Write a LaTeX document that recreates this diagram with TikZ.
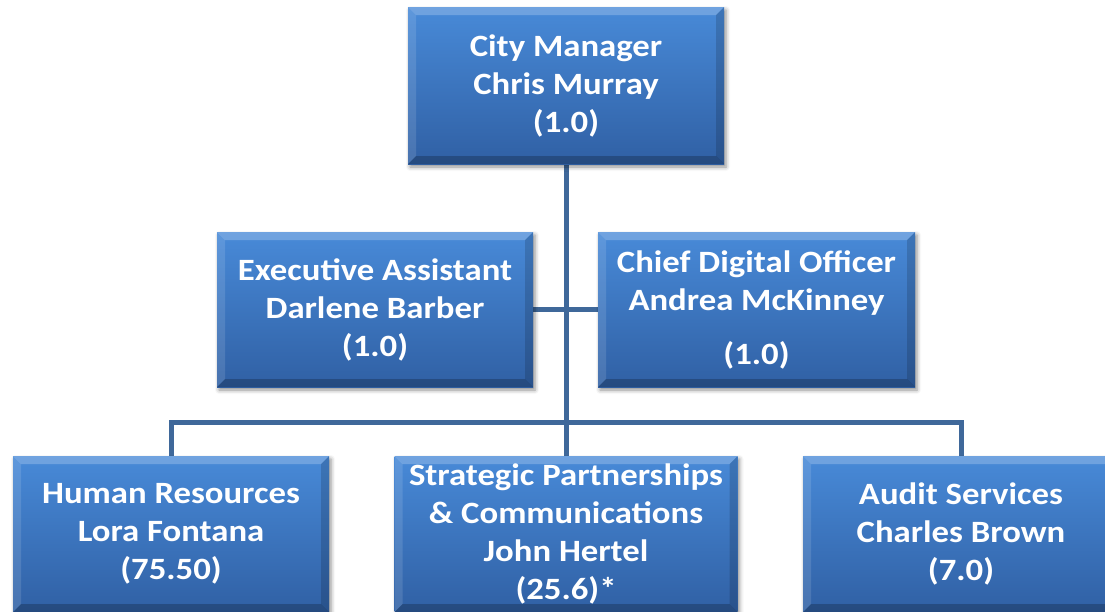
\documentclass[tikz,border=0pt]{standalone}
\usepackage{fontspec}
\setmainfont[FakeStretch=1.12]{Carlito}
\usetikzlibrary{shadows.blur,backgrounds}
\definecolor{boxtop}{RGB}{72,138,216}
\definecolor{boxbot}{RGB}{48,96,164}
\definecolor{connc}{RGB}{63,104,154}
\tikzset{
  orgbox/.style={rectangle, draw=none, top color=boxtop, bottom color=boxbot,
    text=white, align=center, inner sep=0pt,
    font=\fontsize{31}{38}\selectfont\bfseries,
    blur shadow={shadow xshift=2pt, shadow yshift=-3pt, shadow blur radius=4pt, shadow opacity=45},
    path picture={
      \fill[white,opacity=0.22] (path picture bounding box.north west) -- (path picture bounding box.north east)
        -- ([xshift=-8pt,yshift=-8pt]path picture bounding box.north east) -- ([xshift=8pt,yshift=-8pt]path picture bounding box.north west) -- cycle;
      \fill[white,opacity=0.12] (path picture bounding box.north west) -- ([xshift=8pt,yshift=-8pt]path picture bounding box.north west)
        -- ([xshift=8pt,yshift=8pt]path picture bounding box.south west) -- (path picture bounding box.south west) -- cycle;
      \fill[black,opacity=0.15] (path picture bounding box.north east) -- ([xshift=-8pt,yshift=-8pt]path picture bounding box.north east)
        -- ([xshift=-8pt,yshift=8pt]path picture bounding box.south east) -- (path picture bounding box.south east) -- cycle;
      \fill[black,opacity=0.22] (path picture bounding box.south west) -- ([xshift=8pt,yshift=8pt]path picture bounding box.south west)
        -- ([xshift=-8pt,yshift=8pt]path picture bounding box.south east) -- (path picture bounding box.south east) -- cycle;
    }},
  conn/.style={draw=connc, line width=5pt}
}
\begin{document}
\begin{tikzpicture}[x=1pt,y=-1pt]
\useasboundingbox (0,0) rectangle (1105,611);
\clip (0,0) rectangle (1105,611);
\node[orgbox, minimum width=316pt, minimum height=157pt] (cm) at (566,85.5) {City Manager\\Chris Murray\\(1.0)};
\node[orgbox, minimum width=316pt, minimum height=155pt] (ea) at (375,309.5) {Executive Assistant\\Darlene Barber\\(1.0)};
\node[orgbox, minimum width=317pt, minimum height=155pt] (cdo) at (756.5,309.5) {Chief Digital Officer\\Andrea McKinney\\[16pt](1.0)};
\node[orgbox, minimum width=316pt, minimum height=156pt] (hr) at (171,534) {Human Resources\\Lora Fontana\\(75.50)};
\node[orgbox, minimum width=343pt, minimum height=156pt] (spc) at (566,534) {Strategic Partnerships\\\& Communications\\John Hertel\\(25.6)*};
\node[orgbox, minimum width=316pt, minimum height=156pt] (aud) at (961,534) {Audit Services\\Charles Brown\\(7.0)};
\coordinate (bus) at (566,422);
\begin{scope}[on background layer]
\draw[conn] (cm.south) -- (spc.north);
\draw[conn] (ea.east) -- (cdo.west);
\draw[conn] (hr.north) |- (bus) -| (aud.north);
\end{scope}
\end{tikzpicture}
\end{document}
